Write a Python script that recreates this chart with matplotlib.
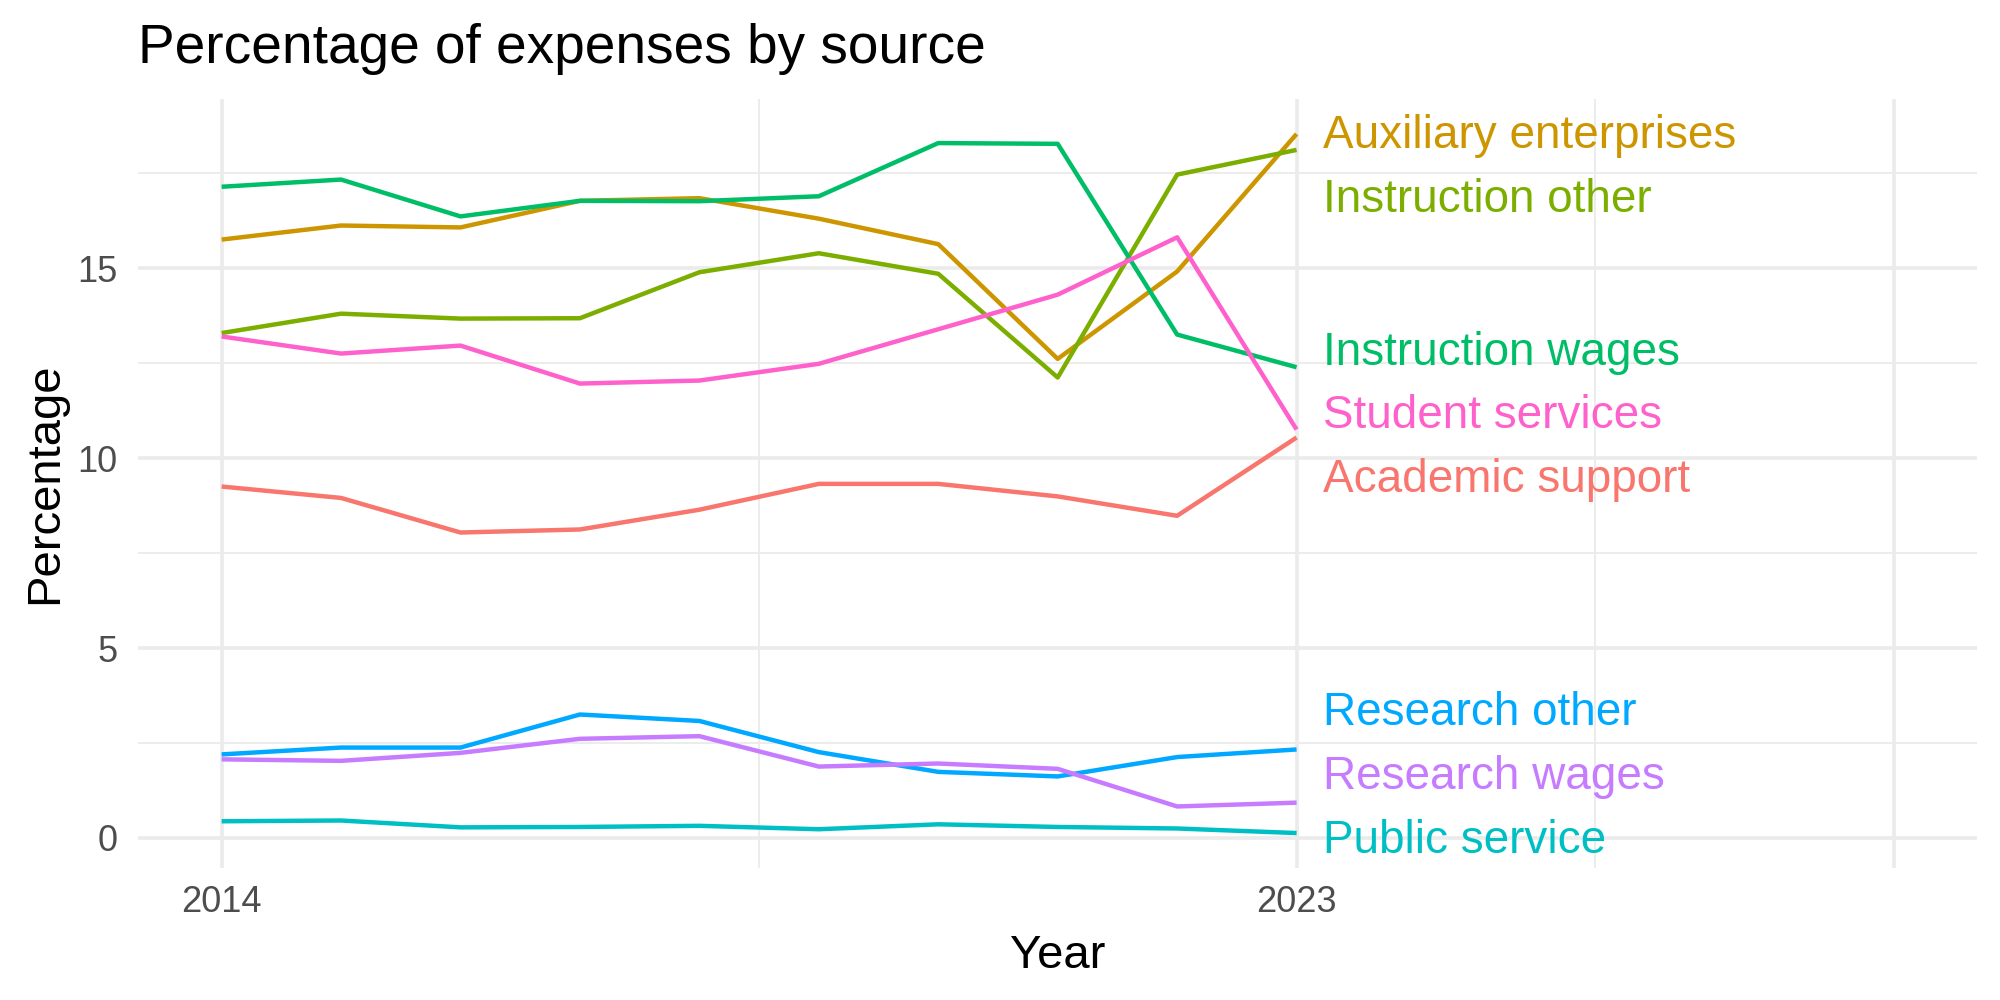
import numpy as np
import matplotlib
matplotlib.use("Agg")
import matplotlib.pyplot as plt
import matplotlib.transforms as mtransforms

plt.rcParams['font.family'] = ['Liberation Sans', 'DejaVu Sans']

years = np.arange(2014, 2024)

sources = ["Academic support", "Auxiliary enterprises", "Instruction other",
           "Instruction wages", "Public service", "Research other",
           "Research wages", "Student services"]

academic_support = [9.25, 8.95, 8.04, 8.12, 8.64, 9.32, 9.32, 8.99, 8.48, 10.54]
auxiliary_enterprises = [15.75, 16.12, 16.07, 16.77, 16.84, 16.30, 15.63, 12.61, 14.91, 18.53]
instruction_other = [13.29, 13.80, 13.67, 13.68, 14.89, 15.39, 14.85, 12.12, 17.46, 18.11]
instruction_wages = [17.14, 17.33, 16.36, 16.77, 16.76, 16.89, 18.29, 18.27, 13.25, 12.39]
public_service = [0.44, 0.46, 0.28, 0.29, 0.32, 0.23, 0.36, 0.29, 0.25, 0.13]
research_other = [2.20, 2.38, 2.38, 3.25, 3.08, 2.26, 1.74, 1.62, 2.13, 2.33]
research_wages = [2.07, 2.03, 2.24, 2.61, 2.68, 1.88, 1.96, 1.82, 0.83, 0.93]
student_services = [13.20, 12.75, 12.96, 11.96, 12.04, 12.48, 13.39, 14.30, 15.81, 10.75]

series = [academic_support, auxiliary_enterprises, instruction_other,
          instruction_wages, public_service, research_other,
          research_wages, student_services]

# ggplot default hue palette for 8 groups
colors = ["#F8766D", "#CD9600", "#7CAE00", "#00BE67",
          "#00BFC4", "#00A9FF", "#C77CFF", "#FF61CC"]


def spread_labels(vals, gap, lo, hi):
    # crude 1d repel: push neighbours apart, keep inside [lo, hi]
    order = np.argsort(vals)
    pos = np.array(vals, float)[order]
    for _ in range(500):
        for i in range(1, len(pos)):
            d = pos[i] - pos[i - 1]
            if d < gap:
                s = (gap - d) / 2
                pos[i - 1] -= s
                pos[i] += s
        pos = np.clip(pos, lo, hi)
    out = np.empty_like(pos)
    out[order] = pos
    return out


fig = plt.figure(figsize=(10, 5), dpi=200)
ax = fig.add_axes([0.069, 0.132, 0.9197, 0.769])

# limits like ggplot (5% expansion)
allv = np.concatenate([np.array(s) for s in series])
ylo, yhi = allv.min(), allv.max()
ypad = (yhi - ylo) * 0.05
ax.set_ylim(ylo - ypad, yhi + ypad)
ax.set_xlim(2014 - 0.7, 2028 + 0.7)

# grid
grid_col = "#EBEBEB"
for y in [0, 5, 10, 15]:
    ax.axhline(y, color=grid_col, lw=1.3, zorder=0)
for y in [2.5, 7.5, 12.5, 17.5]:
    ax.axhline(y, color=grid_col, lw=0.65, zorder=0)
for x in [2014, 2023, 2028]:
    ax.axvline(x, color=grid_col, lw=1.3, zorder=0)
for x in [2018.5, 2025.5]:
    ax.axvline(x, color=grid_col, lw=0.65, zorder=0)

for vals, col in zip(series, colors):
    ax.plot(years, vals, color=col, lw=1.6, solid_capstyle='butt', zorder=2)

# end labels
ends = [s[-1] for s in series]
y0, y1 = ax.get_ylim()
gap = 1.68
label_y = spread_labels(ends, gap, y0 + gap / 2, y1 - gap / 2)
lab_tr = mtransforms.offset_copy(ax.transData, fig=fig, x=0, y=-1.8, units='points')
for name, ly, col in zip(sources, label_y, colors):
    ax.text(years[-1] + 0.22, ly, name, color=col, fontsize=16.5,
            ha='left', va='center', zorder=3, transform=lab_tr)

ax.set_xticks([2014, 2023])
ax.set_xticklabels(["2014", "2023"])
ax.set_yticks([0, 5, 10, 15])
ax.tick_params(length=0, labelsize=13, labelcolor="#4D4D4D")
ax.tick_params(axis='y', pad=7.5)
ax.tick_params(axis='x', pad=6)
for sp in ax.spines.values():
    sp.set_visible(False)

fig.text(0.069, 0.937, "Percentage of expenses by source", fontsize=19.8,
         ha='left', va='baseline')
fig.text(0.069 + 0.9197 / 2, 0.032, "Year", fontsize=17, ha='center', va='baseline')
fig.text(0.0285, 0.132 + 0.769 / 2, "Percentage", fontsize=17, rotation=90,
         rotation_mode='anchor', ha='center', va='baseline')

fig.savefig("out.png", dpi=200, facecolor='white')
